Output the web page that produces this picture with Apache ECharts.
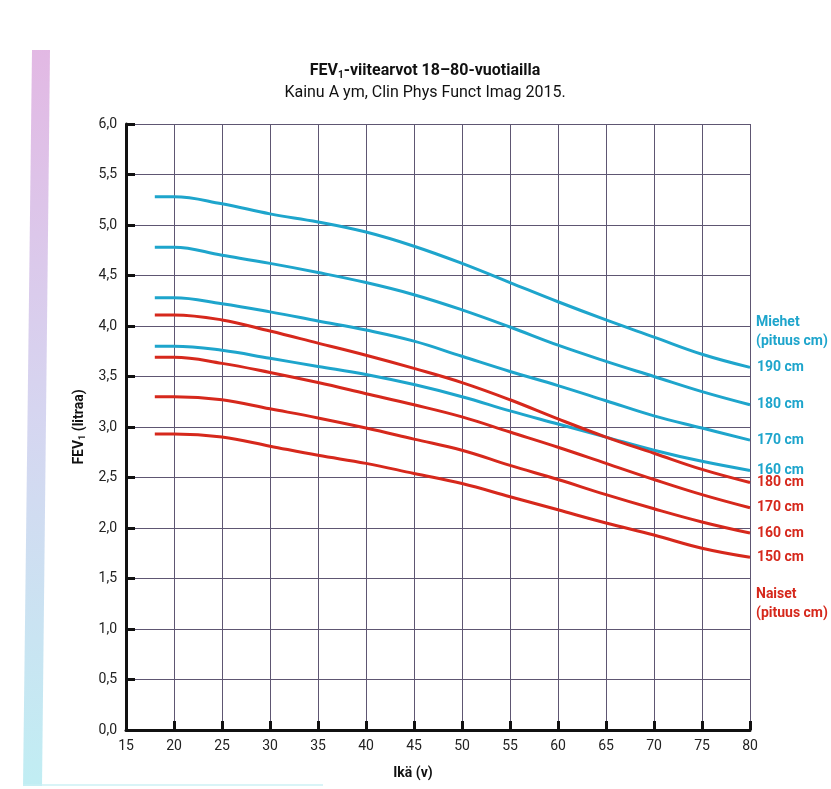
<!DOCTYPE html>
<html>
<head>
<meta charset="utf-8">
<title>FEV1-viitearvot</title>
<script src="https://cdn.jsdelivr.net/npm/echarts@6/dist/echarts.min.js"></script>
<style>
  html, body { margin: 0; padding: 0; background: #fff; }
  #chart { width: 831px; height: 789px; }
</style>
</head>
<body>
<div id="chart"></div>
<script>
// iät (v)
const ages = [18, 20, 25, 30, 35, 40, 45, 50, 55, 60, 65, 70, 75, 80];

// miehet, pituus cm -> FEV1 (litraa)
const menHeights = [190, 180, 170, 160];
const men190 = [5.28, 5.28, 5.21, 5.11, 5.03, 4.93, 4.79, 4.62, 4.43, 4.24, 4.06, 3.89, 3.72, 3.59];
const men180 = [4.78, 4.78, 4.70, 4.62, 4.53, 4.43, 4.31, 4.16, 3.99, 3.81, 3.65, 3.50, 3.35, 3.22];
const men170 = [4.28, 4.28, 4.22, 4.14, 4.05, 3.96, 3.85, 3.70, 3.55, 3.41, 3.26, 3.11, 2.99, 2.87];
const men160 = [3.80, 3.80, 3.76, 3.68, 3.60, 3.52, 3.42, 3.30, 3.16, 3.03, 2.90, 2.77, 2.66, 2.57];

// naiset, pituus cm -> FEV1 (litraa)
const womenHeights = [180, 170, 160, 150];
const women180 = [4.11, 4.11, 4.06, 3.95, 3.83, 3.71, 3.58, 3.44, 3.27, 3.08, 2.90, 2.74, 2.58, 2.45];
const women170 = [3.69, 3.69, 3.63, 3.54, 3.44, 3.33, 3.22, 3.10, 2.95, 2.80, 2.64, 2.48, 2.33, 2.20];
const women160 = [3.30, 3.30, 3.27, 3.18, 3.09, 2.99, 2.88, 2.77, 2.62, 2.48, 2.33, 2.19, 2.06, 1.95];
const women150 = [2.93, 2.93, 2.90, 2.81, 2.72, 2.64, 2.54, 2.44, 2.31, 2.18, 2.05, 1.93, 1.80, 1.71];

const menValues = [men190, men180, men170, men160];
const womenValues = [women180, women170, women160, women150];

const blue = '#1ea5cc';
const red = '#d6281c';
const font = '"Liberation Sans Narrow", "Roboto", sans-serif';

const makeSeries = (label, height, values, color) => ({
  name: label + ' ' + height + ' cm',
  type: 'line',
  smooth: 0.4,
  symbol: 'none',
  data: ages.map((a, i) => [a, values[i]]),
  lineStyle: { color: color, width: 3 },
  endLabel: {
    show: true,
    distance: 7,
    formatter: () => height + ' cm',
    color: color,
    fontFamily: font,
    fontWeight: 'bold',
    fontSize: 14
  },
  z: 3
});

const series = [];
menHeights.forEach((h, i) => series.push(makeSeries('Miehet', h, menValues[i], blue)));
womenHeights.forEach((h, i) => series.push(makeSeries('Naiset', h, womenValues[i], red)));

const chart = echarts.init(document.getElementById('chart'));
chart.setOption({
  backgroundColor: '#ffffff',
  animation: false,
  title: {
    left: 420,
    top: 57,
    textAlign: 'center',
    text: '{b|FEV}{s|1}{b|-viitearvot 18–80-vuotiailla}',
    subtext: 'Kainu A ym, Clin Phys Funct Imag 2015.',
    itemGap: 6,
    textStyle: {
      rich: {
        b: { fontFamily: font, fontWeight: 'bold', fontSize: 16, color: '#111' },
        s: { fontFamily: font, fontWeight: 'bold', fontSize: 10, color: '#111', verticalAlign: 'bottom', padding: [8, 0, 0, 0] }
      }
    },
    subtextStyle: { fontFamily: font, fontSize: 16, color: '#111' }
  },
  grid: { left: 126, right: 81, top: 124, bottom: 59 },
  xAxis: {
    type: 'value',
    min: 15,
    max: 80,
    interval: 5,
    name: 'Ikä (v)',
    nameLocation: 'middle',
    nameGap: 36,
    nameTextStyle: { fontFamily: font, fontWeight: 'bold', fontSize: 14, color: '#111', padding: [0, 50, 0, 0] },
    axisLine: { lineStyle: { color: '#111', width: 3 } },
    axisTick: { inside: true, length: 9, lineStyle: { color: '#111', width: 3 } },
    axisLabel: { fontFamily: font, fontSize: 14, color: '#222', margin: 9 },
    splitLine: { show: true, lineStyle: { color: '#5e5672', width: 1 } }
  },
  yAxis: {
    type: 'value',
    min: 0,
    max: 6,
    interval: 0.5,
    name: '{b|FEV}{s|1}{b| (litraa)}',
    nameLocation: 'middle',
    nameGap: 33,
    nameRotate: 90,
    nameTextStyle: {
      rich: {
        b: { fontFamily: font, fontWeight: 'bold', fontSize: 14, color: '#111' },
        s: { fontFamily: font, fontWeight: 'bold', fontSize: 9, color: '#111', verticalAlign: 'bottom', padding: [7, 0, 0, 0] }
      }
    },
    axisLine: { show: true, lineStyle: { color: '#111', width: 3 } },
    axisTick: { show: true, inside: true, length: 9, lineStyle: { color: '#111', width: 3 } },
    axisLabel: {
      fontFamily: font, fontSize: 14, color: '#222', margin: 9,
      formatter: v => v.toFixed(1).replace('.', ',')
    },
    splitLine: { show: true, lineStyle: { color: '#5e5672', width: 1 } }
  },
  graphic: [
    {
      type: 'polygon',
      shape: { points: [[32, 50], [50, 50], [42, 786], [23, 786]] },
      style: {
        fill: new echarts.graphic.LinearGradient(0, 0, 0, 1, [
          { offset: 0, color: '#d69ad8' },
          { offset: 0.5, color: '#c4c4ea' },
          { offset: 1, color: '#a6e6ee' }
        ]),
        opacity: 0.7
      },
      silent: true
    },
    {
      type: 'rect',
      shape: { x: 23, y: 784, width: 300, height: 2 },
      style: { fill: '#c9f0f4', opacity: 0.7 },
      silent: true
    },
    {
      type: 'text', left: 756, top: 313,
      style: { text: 'Miehet\n(pituus cm)', fill: blue, font: 'bold 14px ' + font, lineHeight: 19 }
    },
    {
      type: 'text', left: 756, top: 585,
      style: { text: 'Naiset\n(pituus cm)', fill: red, font: 'bold 14px ' + font, lineHeight: 19 }
    }
  ],
  series: series
});
</script>
</body>
</html>
